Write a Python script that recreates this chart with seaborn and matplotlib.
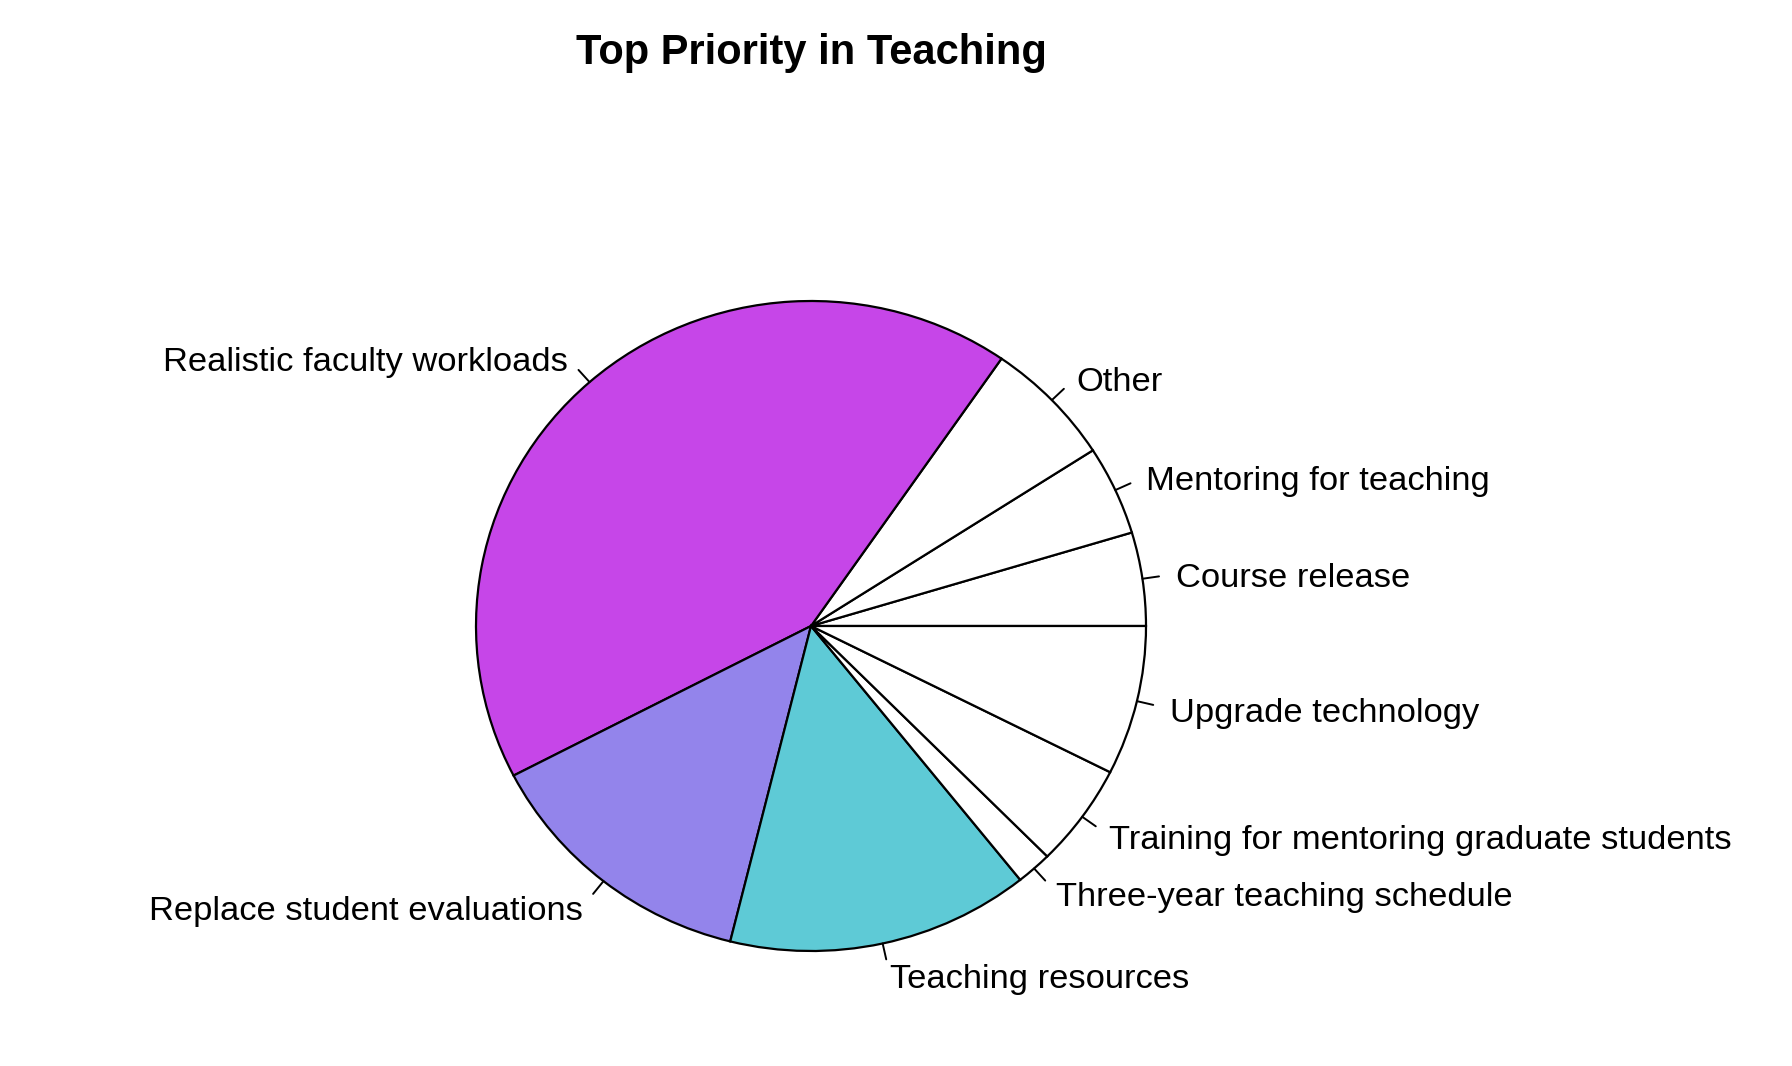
import numpy as np
import matplotlib
matplotlib.use("Agg")
import matplotlib.pyplot as plt
import seaborn as sns

sns.set_theme(style="white")
plt.rcParams['font.family'] = ['Liberation Sans', 'DejaVu Sans']
plt.rcParams['text.color'] = 'black'

categories = ["Course release", "Mentoring for teaching", "Other",
              "Realistic faculty workloads", "Replace student evaluations",
              "Teaching resources", "Three-year teaching schedule",
              "Training for mentoring graduate students", "Upgrade technology"]
shares = [4.64, 4.44, 6.28, 42.2, 13.5, 14.6, 1.72, 5.11, 7.42]
colors = ["white", "white", "white", "#C646E8", "#9384EB", "#5ECAD6",
          "white", "white", "white"]

fig = plt.figure(figsize=(17.92, 10.66), dpi=100)
ax = fig.add_axes([0, 0, 1, 1])
wedges, texts = ax.pie(shares, labels=categories, colors=colors, startangle=0,
                       counterclock=True, labeldistance=1.1,
                       wedgeprops=dict(edgecolor="black", linewidth=1.6),
                       textprops=dict(fontsize=24.8, color="black"))
for w in wedges:
    mid = np.deg2rad((w.theta1 + w.theta2) / 2)
    ax.plot([np.cos(mid), 1.05 * np.cos(mid)], [np.sin(mid), 1.05 * np.sin(mid)],
            color="black", lw=1.4)
for t in texts:
    x, y = t.get_position()
    t.set_position((x, y - 0.014))
ax.set_aspect('auto')
ax.set_xlim(-811 / 335, (1792 - 811) / 335)
ax.set_ylim(-440 / 325, (1066 - 440) / 325)
ax.axis('off')
fig.text(811 / 1792, 1 - 53 / 1066, "Top Priority in Teaching", ha="center", va="center",
         fontsize=30, fontweight="bold", color="black")
fig.savefig("out.png", dpi=100)
